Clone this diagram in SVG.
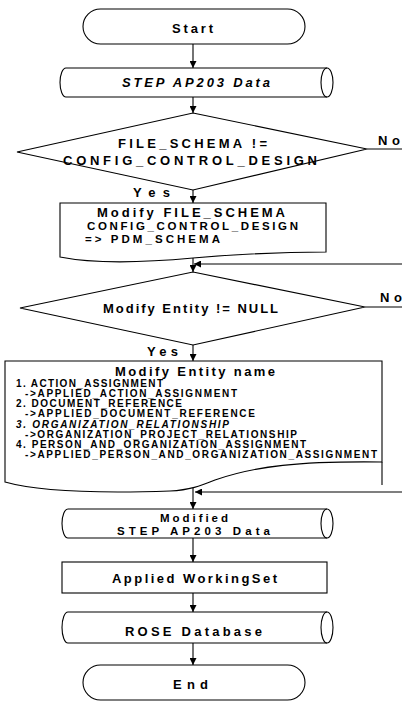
<svg xmlns="http://www.w3.org/2000/svg" width="402" height="703" viewBox="0 0 402 703">
  <style>
    .shape { fill: #fff; stroke: #000; stroke-width: 1.1; }
    .edge { fill: none; stroke: #000; stroke-width: 1.1; }
    text { font-family: "Liberation Sans", Arial, sans-serif; font-weight: bold; fill: #000; }
    .t13 { font-size: 13px; }
    .t12 { font-size: 11.5px; }
    .t10 { font-size: 10px; }
    .it { font-style: italic; }
  </style>
  <defs>
    <marker id="arrow" markerUnits="userSpaceOnUse" markerWidth="8" markerHeight="7" refX="7" refY="3.5" orient="auto">
      <path d="M0,0 L7,3.5 L0,7 Z" fill="#000"/>
    </marker>
  </defs>

  <rect width="402" height="703" fill="#fff"/>

  <!-- connectors -->
  <g id="connectors">
    <path class="edge" d="M193,44 V68" marker-end="url(#arrow)"/>
    <path class="edge" d="M193,97 V113" marker-end="url(#arrow)"/>
    <path class="edge" d="M193,190 V203" marker-end="url(#arrow)"/>
    <path class="edge" d="M193,258 V272" marker-end="url(#arrow)"/>
    <path class="edge" d="M193,345 V361" marker-end="url(#arrow)"/>
    <path class="edge" d="M193,488 V509" marker-end="url(#arrow)"/>
    <path class="edge" d="M193,538 V562" marker-end="url(#arrow)"/>
    <path class="edge" d="M193,593 V612" marker-end="url(#arrow)"/>
    <path class="edge" d="M193,643 V665" marker-end="url(#arrow)"/>
    <!-- "No" branches leaving to the right and returning -->
    <path class="edge" d="M367,149 H402"/>
    <path class="edge" d="M402,264 H194" marker-end="url(#arrow)"/>
    <path class="edge" d="M365,307 H402"/>
    <path class="edge" d="M402,492 H195" marker-end="url(#arrow)"/>
    <text class="t13" x="378" y="145" textLength="22" lengthAdjust="spacing">No</text>
    <text class="t13" x="133" y="197" textLength="37" lengthAdjust="spacing">Yes</text>
    <text class="t13" x="380" y="302" textLength="22" lengthAdjust="spacing">No</text>
    <text class="t13" x="147" y="356" textLength="31" lengthAdjust="spacing">Yes</text>
  </g>

  <g id="start">
    <rect class="shape" x="83" y="9" width="222" height="35" rx="17.5"/>
    <text class="t13" x="172" y="33" textLength="41" lengthAdjust="spacing">Start</text>
  </g>

  <g id="step-data">
    <path class="shape" d="M66,68 H327 A6,14.5 0 0 1 327,97 H66 A6,14.5 0 0 1 66,68 Z"/>
    <path class="edge" d="M327,68 A6,14.5 0 0 0 327,97"/>
    <text class="t13 it" x="122" y="87" textLength="148" lengthAdjust="spacing">STEP AP203 Data</text>
  </g>

  <g id="check-schema">
    <path class="shape" d="M193,113 L367,149 L193,190 L17,152 Z"/>
    <text class="t13" x="118" y="147.5" textLength="149" lengthAdjust="spacing">FILE_SCHEMA !=</text>
    <text class="t13" x="63" y="164.5" textLength="254" lengthAdjust="spacing">CONFIG_CONTROL_DESIGN</text>
  </g>

  <g id="modify-schema">
    <path class="shape" d="M60,203 H326 V252 C 290,252 240,254 193,258 C 150,262 100,265 60,257 Z"/>
    <text class="t13" x="97" y="216.5" textLength="188" lengthAdjust="spacing">Modify FILE_SCHEMA</text>
    <text class="t12" x="87" y="229.5" textLength="211" lengthAdjust="spacing">CONFIG_CONTROL_DESIGN</text>
    <text class="t12" x="85" y="243" textLength="135" lengthAdjust="spacing">=&gt; PDM_SCHEMA</text>
  </g>

  <g id="check-entity">
    <path class="shape" d="M193,272 L365,307 L193,345 L20,308 Z"/>
    <text class="t13" x="103" y="313" textLength="175" lengthAdjust="spacing">Modify Entity != NULL</text>
  </g>

  <g id="modify-entity">
    <path class="shape" d="M5,361 H382 V462 C 300,461 255,466 215,480 C 200,486 190,490 170,491 C 110,493 40,492 5,482 Z"/>
    <path class="edge" d="M382,462 V485"/>
    <text class="t13" x="115" y="375.5" textLength="160" lengthAdjust="spacing">Modify Entity name</text>
    <text class="t10" x="16" y="387" textLength="147" lengthAdjust="spacing">1. ACTION_ASSIGNMENT</text>
    <text class="t10" x="25" y="396.5" textLength="212" lengthAdjust="spacing">-&gt;APPLIED_ACTION_ASSIGNMENT</text>
    <text class="t10" x="16" y="407" textLength="166" lengthAdjust="spacing">2. DOCUMENT_REFERENCE</text>
    <text class="t10" x="25" y="417" textLength="230" lengthAdjust="spacing">-&gt;APPLIED_DOCUMENT_REFERENCE</text>
    <text class="t10 it" x="16" y="427.5" textLength="213" lengthAdjust="spacing">3. ORGANIZATION_RELATIONSHIP</text>
    <text class="t10" x="25" y="437.5" textLength="272" lengthAdjust="spacing">-&gt;ORGANIZATION_PROJECT_RELATIONSHIP</text>
    <text class="t10" x="16" y="447.5" textLength="290" lengthAdjust="spacing">4. PERSON_AND_ORGANIZATION_ASSIGNMENT</text>
    <text class="t10" x="25" y="458" textLength="352" lengthAdjust="spacing">-&gt;APPLIED_PERSON_AND_ORGANIZATION_ASSIGNMENT</text>
  </g>

  <g id="modified-data">
    <path class="shape" d="M68,509 H327 A6,14.5 0 0 1 327,538 H68 A6,14.5 0 0 1 68,509 Z"/>
    <path class="edge" d="M327,509 A6,14.5 0 0 0 327,538"/>
    <text class="t12" x="160" y="521.5" textLength="68" lengthAdjust="spacing">Modified</text>
    <text class="t12" x="117" y="534.5" textLength="153" lengthAdjust="spacing">STEP AP203 Data</text>
  </g>

  <g id="working-set">
    <rect class="shape" x="62" y="562" width="265" height="31"/>
    <text class="t13" x="112" y="583" textLength="165" lengthAdjust="spacing">Applied WorkingSet</text>
  </g>

  <g id="rose-db">
    <path class="shape" d="M68,612 H327 A6,15.5 0 0 1 327,643 H68 A6,15.5 0 0 1 68,612 Z"/>
    <path class="edge" d="M327,612 A6,15.5 0 0 0 327,643"/>
    <text class="t13" x="125" y="636" textLength="137" lengthAdjust="spacing">ROSE Database</text>
  </g>

  <g id="end">
    <rect class="shape" x="83" y="665" width="222" height="35" rx="17.5"/>
    <text class="t13" x="173" y="688.5" textLength="35" lengthAdjust="spacing">End</text>
  </g>
</svg>
